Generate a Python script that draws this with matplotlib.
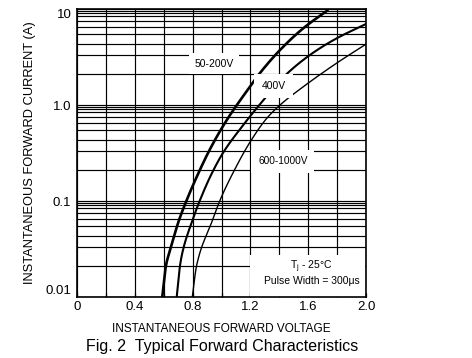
import matplotlib
matplotlib.use("Agg")
import matplotlib.pyplot as plt
import numpy as np

plt.rcParams['font.family'] = ['Liberation Sans', 'DejaVu Sans']
plt.rcParams['mathtext.fontset'] = 'custom'
plt.rcParams['mathtext.rm'] = 'Liberation Sans'
plt.rcParams['mathtext.it'] = 'Liberation Sans'

# Data (voltage V, current A)
v_50_200 = [0.59, 0.616, 0.648, 0.701, 0.759, 0.85, 0.913, 0.985, 1.059, 1.16, 1.255, 1.405, 1.566, 1.739]
i_50_200 = [0.01, 0.0214, 0.032, 0.060, 0.102, 0.21, 0.33, 0.52, 0.787, 1.30, 2.05, 3.74, 6.3, 9.8]

v_400 = [0.69, 0.713, 0.736, 0.794, 0.851, 0.93, 1.012, 1.151, 1.289, 1.428, 1.612, 1.797, 2.0]
i_400 = [0.01, 0.0214, 0.032, 0.060, 0.102, 0.19, 0.32, 0.62, 1.12, 1.95, 3.32, 4.95, 6.98]

v_600_1000 = [0.798, 0.828, 0.932, 0.99, 1.093, 1.197, 1.313, 1.405, 1.566, 1.80, 2.0]
i_600_1000 = [0.01, 0.0214, 0.060, 0.102, 0.215, 0.41, 0.726, 1.0, 1.55, 2.75, 4.3]

x_ticks = [0, 0.4, 0.8, 1.2, 1.6, 2.0]
x_tick_labels = ['0', '0.4', '0.8', '1.2', '1.6', '2.0']
y_ticks = [0.01, 0.1, 1.0, 10]
y_tick_labels = ['0.01', '0.1', '1.0', '10']
grid_fracs = [0.95, 0.9, 0.85, 0.75, 0.65, 0.55, 0.43, 0.33, 0.21]


def pchip_path(x, y, n=300):
    """Smooth monotone drawing path through the points (in V, log10 I)."""
    x = np.asarray(x, float)
    y = np.log10(np.asarray(y, float))
    h = np.diff(x)
    d = np.diff(y) / h
    m = np.zeros_like(x)
    for k in range(1, len(x) - 1):
        if d[k - 1] * d[k] > 0:
            w1 = 2 * h[k] + h[k - 1]
            w2 = h[k] + 2 * h[k - 1]
            m[k] = (w1 + w2) / (w1 / d[k - 1] + w2 / d[k])
    m[0] = d[0]
    m[-1] = d[-1]
    xs = np.linspace(x[0], x[-1], n)
    idx = np.clip(np.searchsorted(x, xs) - 1, 0, len(x) - 2)
    t = (xs - x[idx]) / h[idx]
    h00 = 2 * t**3 - 3 * t**2 + 1
    h10 = t**3 - 2 * t**2 + t
    h01 = -2 * t**3 + 3 * t**2
    h11 = t**3 - t**2
    ys = h00 * y[idx] + h10 * h[idx] * m[idx] + h01 * y[idx + 1] + h11 * h[idx] * m[idx + 1]
    return xs, 10 ** ys


fig = plt.figure(figsize=(4.72, 3.58), dpi=100)
ax = fig.add_axes([77/472, 1 - 297/358, (366 - 77)/472, (297 - 9)/358])

ax.set_xlim(0, 2.0)
ax.set_yscale('log')
ax.set_ylim(0.01, 10)

# grid
ax.set_xticks(x_ticks)
ax.set_xticklabels(x_tick_labels)
ax.set_xticks(np.arange(0.2, 2.0, 0.4), minor=True)
ax.set_yticks(y_ticks)
ax.set_yticklabels(y_tick_labels)
minor_y = [f * d for d in [0.1, 1, 10] for f in grid_fracs]
ax.set_yticks(minor_y, minor=True)
ax.yaxis.set_minor_formatter(matplotlib.ticker.NullFormatter())
ax.grid(True, which='both', color='black', linewidth=0.85, zorder=1)
ax.set_axisbelow(True)
ax.tick_params(axis='x', which='both', direction='in', length=3, width=0.9,
               labelsize=9.5, pad=3)
ax.tick_params(axis='y', which='major', direction='in', length=0, labelsize=9.5, pad=4)
ax.tick_params(axis='y', which='minor', length=0)
ylabels = ax.get_yticklabels()
ylabels[0].set_va('bottom')
ylabels[-1].set_va('top')
for s in ax.spines.values():
    s.set_linewidth(1.2)
    s.set_zorder(5)

# curves
for vv, ii, lw in [(v_50_200, i_50_200, 1.9), (v_400, i_400, 1.5),
                   (v_600_1000, i_600_1000, 1.0)]:
    xs, ys = pchip_path(vv, ii)
    ax.plot(xs, ys, color='black', lw=lw, zorder=3, solid_capstyle='butt')

ax.text(0.948, 2.7, '50-200V', fontsize=7.5, ha='center', va='center',
        bbox=dict(facecolor='white', edgecolor='none', pad=4), zorder=4)
ax.text(1.36, 1.58, '400V', fontsize=7.5, ha='center', va='center',
        bbox=dict(facecolor='white', edgecolor='none', pad=5), zorder=4)
ax.text(1.424, 0.258, '600-1000V', fontsize=7.3, ha='center', va='center',
        bbox=dict(facecolor='white', edgecolor='none', pad=5), zorder=4)

# condition box
ax.add_patch(plt.Rectangle((1.2, 0.01), 0.795, 0.0274 - 0.01, facecolor='white',
                           edgecolor='none', zorder=2.5))
ax.text(1.62, 0.0207, r'T$_\mathregular{j}$ - 25°C', fontsize=7.5, ha='center',
        va='center', zorder=4)
ax.text(1.625, 0.0147, 'Pulse Width = 300μs', fontsize=7.5, ha='center',
        va='center', zorder=4)

ax.set_xlabel('INSTANTANEOUS FORWARD VOLTAGE', fontsize=8.5, labelpad=7)
ax.set_ylabel('INSTANTANEOUS FORWARD CURRENT (A)', fontsize=9.3, labelpad=7)
fig.text(222/472, 1 - 347/358, 'Fig. 2  Typical Forward Characteristics',
         fontsize=11.5, ha='center', va='center')

fig.savefig('out.png', dpi=100)
